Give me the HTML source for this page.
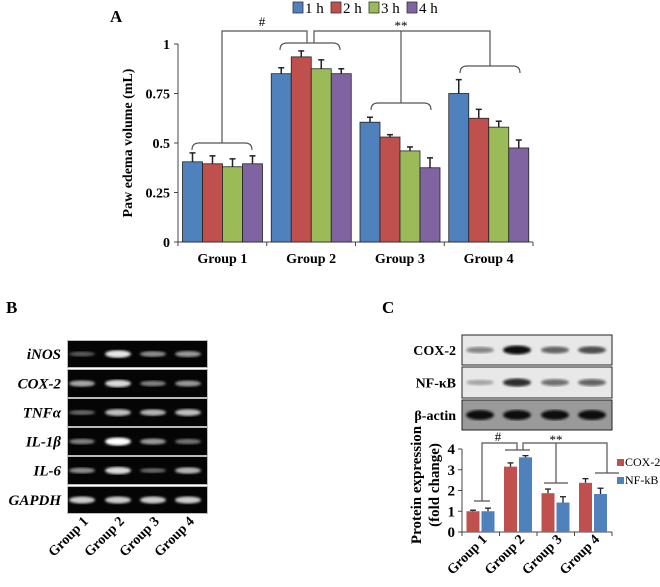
<!DOCTYPE html>
<html><head><meta charset="utf-8"><style>
body{margin:0;background:#fff;}
svg{font-family:"Liberation Serif",serif;font-weight:bold;}
</style></head><body>
<svg width="660" height="582" viewBox="0 0 660 582" xmlns="http://www.w3.org/2000/svg">
<g id="A"></g>
<g id="B"></g>
<g id="C"></g>
</svg>
<script>
// Panel A data
const groupsA = ["Group 1","Group 2","Group 3","Group 4"];
const seriesA = ["1 h","2 h","3 h","4 h"];
const h1 = [0.405,0.85,0.605,0.75];
const h2 = [0.395,0.935,0.53,0.625];
const h3 = [0.38,0.875,0.46,0.58];
const h4 = [0.395,0.85,0.375,0.475];
const e1 = [0.045,0.03,0.025,0.07];
const e2 = [0.04,0.03,0.012,0.045];
const e3 = [0.04,0.045,0.02,0.03];
const e4 = [0.04,0.025,0.05,0.04];
const ticksA = [0,0.25,0.5,0.75,1];
const tickLabelsA = ["0","0.25","0.5","0.75","1"];
// Panel C data
const groupsC = ["Group 1","Group 2","Group 3","Group 4"];
const cox2 = [1.0,3.15,1.87,2.37];
const nfkb = [1.0,3.6,1.42,1.83];
const cox2Err = [0.05,0.18,0.2,0.2];
const nfkbErr = [0.15,0.08,0.28,0.28];
const ticksC = [0,1,2,3,4];
// Panel B data
const genesB = ["iNOS","COX-2","TNF\u03b1","IL-1\u03b2","IL-6","GAPDH"];

const NS="http://www.w3.org/2000/svg";
function mk(parent,tag,attrs,text){const e=document.createElementNS(NS,tag);for(const k in attrs)e.setAttribute(k,attrs[k]);if(text!==undefined)e.textContent=text;parent.appendChild(e);return e;}
const colorsA=["#4f81bd","#c0504d","#9bbb59","#8064a2"];

// ---------- Panel A ----------
(function(){
const g=document.getElementById('A');
const x0=178,x1=533,yTop=44,yBot=242;
const yA=v=>yBot-(v/1)*(yBot-yTop);
const gw=(x1-x0)/groupsA.length;
const bw=20;
const t=mk(g,'text',{x:110,y:22,'font-size':17});t.textContent='A';

seriesA.forEach((s,i)=>{const lx=293+i*38;
 const r=mk(g,'rect',{x:lx,y:2,width:10,height:11,fill:colorsA[i],stroke:'#333','stroke-width':0.8});
 
 const tx=mk(g,'text',{x:lx+12,y:13,'font-size':15,'font-weight':'normal'},s);
 });
mk(g,'line',{x1:x0,y1:yTop,x2:x0,y2:yBot,stroke:'#444','stroke-width':1});
mk(g,'line',{x1:x0,y1:yBot,x2:x1,y2:yBot,stroke:'#444','stroke-width':1});
ticksA.forEach((v,i)=>{const y=yA(v);mk(g,'line',{x1:x0-4,y1:y,x2:x0,y2:y,stroke:'#444'});
 const tx=mk(g,'text',{x:x0-8,y:y+5,'font-size':14,'text-anchor':'end'},tickLabelsA[i]);
 });
for(let i=0;i<=groupsA.length;i++){const x=x0+i*gw;mk(g,'line',{x1:x,y1:yBot,x2:x,y2:yBot+4,stroke:'#444'});}
const yl=mk(g,'text',{x:0,y:0,'font-size':14,'text-anchor':'middle',transform:'translate(132,143) rotate(-90)'},'Paw edema volume (mL)');

const vals=[h1,h2,h3,h4],errs=[e1,e2,e3,e4];
groupsA.forEach((gn,gi)=>{const gx=x0+gi*gw;
 const tx=mk(g,'text',{x:gx+gw/2,y:263,'font-size':14,'text-anchor':'middle'},gn);
 
 vals.forEach((arr,si)=>{const bx=gx+4.5+si*bw;const y=yA(arr[gi]);
  const r=mk(g,'rect',{x:bx,y:y,width:bw,height:yBot-y,fill:colorsA[si],stroke:'#222','stroke-width':0.8});
  
  const ye=yA(arr[gi]+errs[si][gi]);const cx=bx+bw/2;
  mk(g,'line',{x1:cx,y1:y,x2:cx,y2:ye,stroke:'#222','stroke-width':1.5});
  mk(g,'line',{x1:cx-3,y1:ye,x2:cx+3,y2:ye,stroke:'#222','stroke-width':1.5});});
});
const st={stroke:'#555','stroke-width':1.2,fill:'none'};
function brace(cx,y,w){const l=cx-w/2,r=cx+w/2;mk(g,'path',Object.assign({d:`M${l},${y+7} Q${l},${y} ${l+7},${y} L${r-7},${y} Q${r},${y} ${r},${y+7}`},st));}
mk(g,'path',Object.assign({d:'M222,143 L222,31 L307,31 L307,43'},st));
mk(g,'path',Object.assign({d:'M314,43 L314,31 L490,31 L490,66 M401,31 L401,103'},st));
brace(222,143,60);brace(310,43,60);brace(401,103,60);brace(490,66,60);
const hs=mk(g,'text',{x:262,y:26,'font-size':13,'font-weight':'normal','text-anchor':'middle'},'#');

const ss=mk(g,'text',{x:401,y:30,'font-size':13,'font-weight':'normal','text-anchor':'middle'},'**');

})();

// ---------- Panel B ----------
(function(){
const g=document.getElementById('B');
const t=mk(g,'text',{x:6,y:313,'font-size':17},'B');

const rows=[[341,367],[370,397],[399,426],[428,455],[457,484],[487,513]];
const lanes=[82,118,153,188];
const inten=[[0.35,0.9,0.55,0.6],[0.65,0.85,0.5,0.6],[0.4,0.75,0.7,0.75],[0.5,1,0.6,0.45],[0.55,0.85,0.4,0.7],[0.8,0.8,0.8,0.8]];
const defs=mk(g,'defs',{});
const f=mk(defs,'filter',{id:'blurB'});mk(f,'feGaussianBlur',{stdDeviation:1.2});
genesB.forEach((gn,i)=>{const [y0,y1]=rows[i];
 mk(g,'rect',{x:67,y:y0-1,width:141,height:y1-y0+2,fill:'#bbb'});
 const r=mk(g,'rect',{x:68,y:y0,width:139,height:y1-y0,fill:'#050505'});
 
 lanes.forEach((lx,li)=>{const a=inten[i][li];mk(g,'ellipse',{cx:lx,cy:(y0+y1)/2,rx:13,ry:1.5+a*2.5,fill:'#fff',opacity:a,filter:'url(#blurB)'});});
 const tx=mk(g,'text',{x:61,y:(y0+y1)/2+5,'font-size':15,'font-style':'italic','text-anchor':'end'},gn);
 });
groupsA.forEach((gn,i)=>{const tx=mk(g,'text',{x:0,y:0,'font-size':14,'text-anchor':'end',transform:`translate(${lanes[i]+7},${522}) rotate(-45)`},gn);
 });
})();

// ---------- Panel C ----------
(function(){
const g=document.getElementById('C');
const t=mk(g,'text',{x:382,y:313,'font-size':17},'C');

const lanes=[480,517,555,592];
const blots=[['COX-2',335,365,[0.45,1,0.6,0.7]],['NF-\u03baB',367,398,[0.3,0.85,0.55,0.6]],['\u03b2-actin',400,430,[1,1,1,1]]];
const defs=mk(g,'defs',{});
const f=mk(defs,'filter',{id:'blurC'});mk(f,'feGaussianBlur',{stdDeviation:1.3});
blots.forEach(([nm,y0,y1,it],i)=>{
 const r=mk(g,'rect',{x:462,y:y0,width:150,height:y1-y0,fill:i==2?'#9a9a9a':'#e8e8e8',stroke:'#222','stroke-width':1});
 
 lanes.forEach((lx,li)=>mk(g,'ellipse',{cx:lx,cy:(y0+y1)/2,rx:14,ry:i==2?5:2+it[li]*2.5,fill:'#111',opacity:it[li],filter:'url(#blurC)'}));
 const tx=mk(g,'text',{x:456,y:(y0+y1)/2+5,'font-size':14,'text-anchor':'end'},nm);
 });
const x0=462,x1=612,yTop=449,yBot=532;
const yC=v=>yBot-(v/4)*(yBot-yTop);
const gw=(x1-x0)/groupsC.length,bw=13;
mk(g,'line',{x1:x0,y1:yTop,x2:x0,y2:yBot,stroke:'#444'});
mk(g,'line',{x1:x0,y1:yBot,x2:x1,y2:yBot,stroke:'#444'});
ticksC.forEach(v=>{const y=yC(v);mk(g,'line',{x1:x0-4,y1:y,x2:x0,y2:y,stroke:'#444'});
 const tx=mk(g,'text',{x:x0-7,y:y+5,'font-size':15,'text-anchor':'end'},String(v));
 });
for(let i=0;i<=groupsC.length;i++){const x=x0+i*gw;mk(g,'line',{x1:x,y1:yBot,x2:x,y2:yBot+4,stroke:'#444'});}
const y1l=mk(g,'text',{x:0,y:0,'font-size':15,'text-anchor':'middle',transform:'translate(421,485) rotate(-90)'},'Protein expression');

const y2l=mk(g,'text',{x:0,y:0,'font-size':15,'text-anchor':'middle',transform:'translate(439,485) rotate(-90)'},'(fold change)');

const ser=[[cox2,cox2Err,'#c0504d','cox2'],[nfkb,nfkbErr,'#4f81bd','nfkb']];
groupsC.forEach((gn,gi)=>{const gx=x0+gi*gw;
 ser.forEach(([arr,er,col,nm],si)=>{const bx=gx+4.5+si*(bw+2);const y=yC(arr[gi]);
  const r=mk(g,'rect',{x:bx,y:y,width:bw,height:yBot-y,fill:col});
  
  const ye=yC(arr[gi]+er[gi]),cx=bx+bw/2;
  mk(g,'line',{x1:cx,y1:y,x2:cx,y2:ye,stroke:'#222','stroke-width':1.3});
  mk(g,'line',{x1:cx-3,y1:ye,x2:cx+3,y2:ye,stroke:'#222','stroke-width':1.3});});
 const tx=mk(g,'text',{x:0,y:0,'font-size':14,'text-anchor':'end',transform:`translate(${gx+gw/2+7},${540}) rotate(-45)`},gn);
 });
const st={stroke:'#555','stroke-width':1.2,fill:'none'};
mk(g,'path',Object.assign({d:'M474,501 L490,501 M482,501 L482,443 L517,443 L517,450 M505,450 L530,450 M523,450 L523,443 L607,443 L607,473 M595,473 L619,473 M556,443 L556,483 M544,483 L568,483'},st));
const hs=mk(g,'text',{x:498,y:441,'font-size':13,'font-weight':'normal','text-anchor':'middle'},'#');

const ss=mk(g,'text',{x:556,y:444,'font-size':13,'font-weight':'normal','text-anchor':'middle'},'**');

[['COX-2','#c0504d',463],['NF-kB','#4f81bd',481]].forEach(([nm,c,y])=>{
 const r=mk(g,'rect',{x:617,y:y-4,width:7,height:7,fill:c});
 
 const tx=mk(g,'text',{x:625,y:y+3,'font-size':12,'font-weight':'normal'},nm);
 });
})();
</script>
</body></html>
